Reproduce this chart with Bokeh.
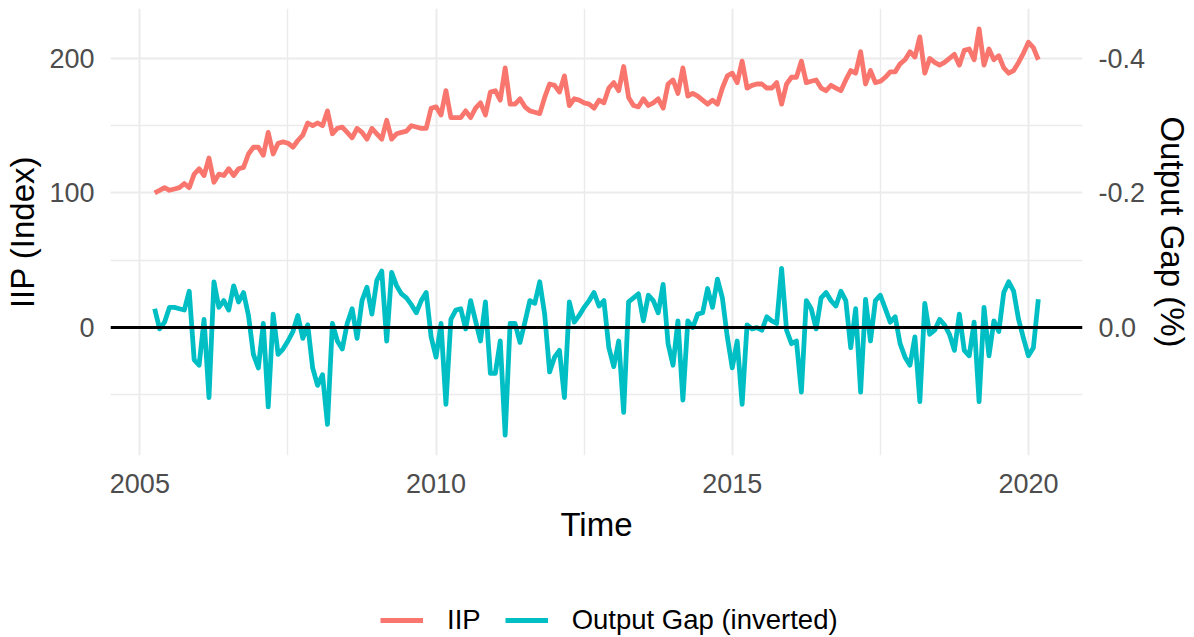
import pandas as pd
from bokeh.plotting import figure
from bokeh.layouts import column
from bokeh.models import (ColumnDataSource, FixedTicker, LinearAxis, Range1d, Span,
                          Legend, LegendItem, PrintfTickFormatter)
from bokeh.embed import file_html
from bokeh.resources import INLINE

# ---------------- data (monthly, Apr 2005 - Mar 2020) ----------------
start_month = "2005-04-01"
n_months = 180

iip = [
    100, 102, 104, 102, 103, 104, 107, 104, 114, 118, 113, 126,
    108, 114, 113, 118, 113, 118, 119, 129, 134, 134, 128, 145,
    129, 137, 138, 137, 134, 139, 143, 152, 150, 152, 150, 161,
    144, 148, 149, 145, 141, 148, 145, 140, 148, 144, 140, 154,
    140, 144, 145, 146, 150, 149, 148, 148, 163, 164, 158, 176,
    156, 156, 156, 161, 156, 163, 167, 158, 175, 176, 169, 193,
    166, 166, 170, 164, 161, 160, 159, 171, 181, 180, 175, 187,
    165, 170, 169, 167, 166, 163, 169, 167, 178, 182, 176, 194,
    171, 165, 164, 170, 165, 167, 170, 163, 181, 184, 174, 193,
    172, 174, 172, 169, 166, 169, 166, 178, 187, 189, 182, 198,
    178, 180, 181, 181, 178, 178, 182, 166, 181, 186, 186, 198,
    182, 183, 184, 178, 176, 180, 178, 176, 184, 191, 189, 205,
    181, 191, 182, 183, 186, 190, 190, 196, 199, 205, 201, 216,
    189, 200, 197, 195, 197, 200, 203, 195, 206, 207, 199, 222,
    195, 207, 199, 202, 193, 189, 191, 197, 204, 212, 208, 199,
]

# output gap, inverted and expressed on the IIP (left) scale
gap_inverted = [
    14, -1, 4, 15, 15, 14, 13, 27, -24, -28, 6, -52,
    34, 15, 20, 13, 31, 19, 26, 9, -20, -30, 3, -59,
    10, -20, -16, -10, -3, 9, -8, 2, -30, -43, -35, -72,
    3, -10, -16, 3, 14, -8, 20, 30, 10, 35, 42, -10,
    41, 31, 25, 22, 17, 11, 20, 26, -7, -22, 3, -57,
    6, 13, 14, -1, 20, 5, -10, 19, -34, -34, -10, -80,
    3, 3, -11, 4, 20, 18, 34, 10, -33, -22, -17, -52,
    19, 4, 9, 15, 20, 26, 16, 20, -15, -29, -10, -63,
    19, 22, 25, 5, 24, 20, 11, 32, -12, -28, 5, -54,
    5, 0, 10, 11, 29, 15, 36, 22, -7, -30, -10, -57,
    2, -1, 0, -2, 8, 5, 3, 44, -2, -12, -10, -48,
    20, 14, -1, 22, 26, 20, 16, 27, 20, -15, 14, -48,
    21, -10, 20, 24, 14, 4, 8, -12, -22, -28, -7, -55,
    18, -5, -2, 6, 2, -5, -17, 10, -17, -21, 4, -55,
    15, -21, 5, -3, 26, 34, 27, 6, -8, -21, -15, 21,
]

series_names = ["IIP", "Output Gap (inverted)"]
series_cols = ["iip", "gap"]
series_colors = ["#F8766D", "#00BFC4"]
gap_scale = 500.0          # left units per 1 % of output gap (secondary axis)
x_ticks = [2005, 2010, 2015, 2020]
x_minor = [2007.5, 2012.5, 2017.5]
y_ticks = [0, 100, 200]
y_minor = [-50, 50, 150]
gap_ticks = [-0.4, -0.2, 0.0]

dates = pd.date_range(start_month, periods=n_months, freq="MS")
t = list(dates.year + (dates.month - 1) / 12.0)

src = ColumnDataSource(dict(t=t, iip=iip, gap=gap_inverted))

# ------------- ranges (ggplot-style 5% expansion) -------------
def expand(lo, hi, f=0.05):
    d = (hi - lo) * f
    return lo - d, hi + d

x0, x1 = expand(min(t), max(t))
y0, y1 = expand(min(min(iip), min(gap_inverted)), max(max(iip), max(gap_inverted)))

FONT = "Liberation Sans"
W = 1194
H_MAIN = 595
H_LEG = 42
LW = 4.8

p = figure(width=W, height=H_MAIN, output_backend="svg", toolbar_location=None,
           x_range=Range1d(x0, x1), y_range=Range1d(y0, y1),
           min_border_left=110, min_border_right=108, min_border_top=8,
           min_border_bottom=140)
p.outline_line_color = None
p.background_fill_color = "white"
p.border_fill_color = "white"

# secondary (inverted) axis
p.extra_y_ranges = {"gap": Range1d(start=-y0 / gap_scale, end=-y1 / gap_scale)}
ry = LinearAxis(y_range_name="gap", axis_label="Output Gap (%)")
ry.ticker = FixedTicker(ticks=gap_ticks)
ry.formatter = PrintfTickFormatter(format="%.1f")
p.add_layout(ry, "right")

p.xaxis.ticker = FixedTicker(ticks=x_ticks, minor_ticks=x_minor)
p.yaxis[0].ticker = FixedTicker(ticks=y_ticks, minor_ticks=y_minor)
p.xaxis.axis_label = "Time"
p.yaxis[0].axis_label = "IIP (Index)"

for ax in p.axis:
    ax.axis_line_color = None
    ax.major_tick_line_color = None
    ax.minor_tick_line_color = None
    ax.major_tick_out = 0
    ax.minor_tick_out = 0
    ax.major_label_text_font = FONT
    ax.major_label_text_font_size = "27px"
    ax.major_label_text_color = "#4D4D4D"
    ax.axis_label_text_font = FONT
    ax.axis_label_text_font_size = "33px"
    ax.axis_label_text_font_style = "normal"
    ax.axis_label_text_color = "black"
    ax.major_label_standoff = 16
    ax.axis_label_standoff = 5

p.xaxis.major_label_standoff = 18
p.xaxis.axis_label_standoff = 10
ry.axis_label_standoff = 6

for g in (p.xgrid, p.ygrid):
    g.grid_line_color = "#EBEBEB"
    g.grid_line_width = 2
    g.minor_grid_line_color = "#EBEBEB"
    g.minor_grid_line_width = 1.4

for col, c in zip(series_cols, series_colors):
    p.line("t", col, source=src, line_color=c, line_width=LW, line_join="round")

p.add_layout(Span(location=0, dimension="width", line_color="black", line_width=3))

# ---------------- legend strip below the chart ----------------
# (the same series drawn again in a strip whose ranges hide them; they only
#  serve as legend keys)
lg = figure(width=W, height=H_LEG, output_backend="svg", toolbar_location=None,
            x_range=Range1d(0, 1), y_range=Range1d(0, 1),
            x_axis_location=None, y_axis_location=None,
            min_border_left=0, min_border_right=0, min_border_top=0,
            min_border_bottom=0)
lg.outline_line_color = None
lg.xgrid.visible = False
lg.ygrid.visible = False
lg.border_fill_color = "white"

proxies = [lg.line("t", col, source=src, line_color=c, line_width=LW)
           for col, c in zip(series_cols, series_colors)]
legend = Legend(items=[LegendItem(label=n, renderers=[r])
                       for n, r in zip(series_names, proxies)],
                orientation="horizontal", location=(270, 1),
                border_line_color=None, background_fill_alpha=0,
                padding=0, margin=0, glyph_width=43, glyph_height=24,
                label_height=24, label_standoff=24, spacing=24,
                label_text_font=FONT, label_text_font_size="27.5px",
                label_text_color="black")
lg.add_layout(legend)

page = column(p, lg, spacing=0)
open("out.html", "w").write(file_html(page, INLINE))
